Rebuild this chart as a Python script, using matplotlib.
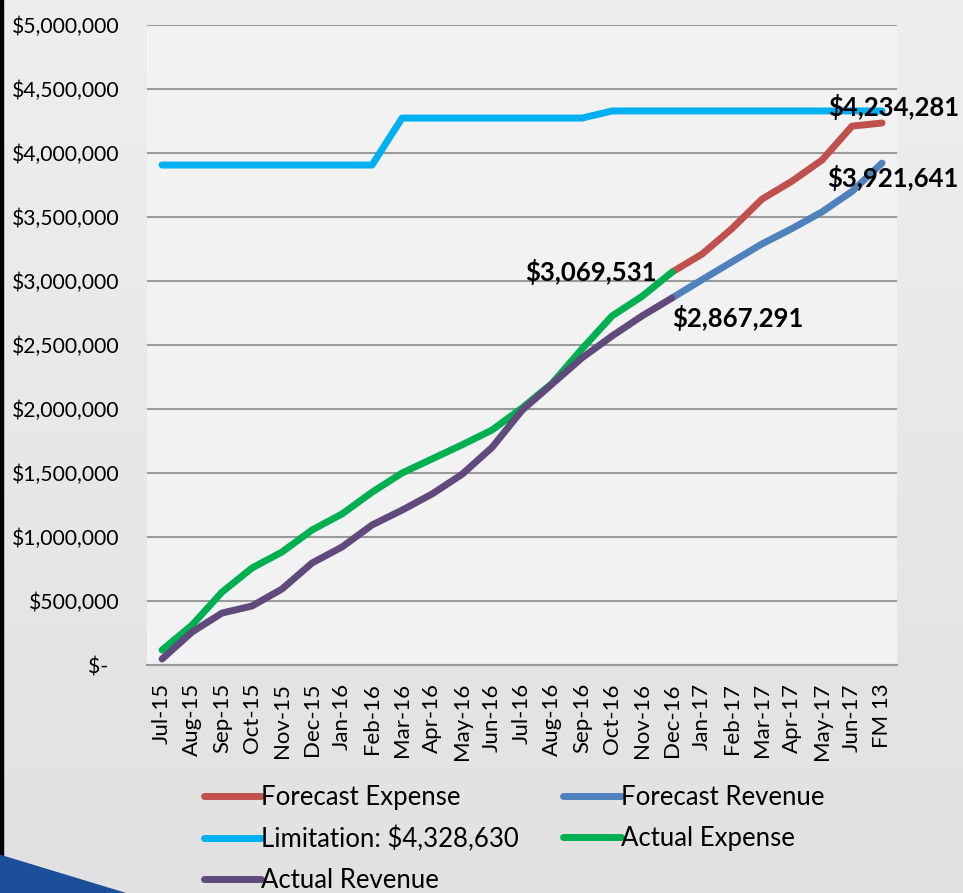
import numpy as np
import matplotlib.pyplot as plt
from matplotlib.patches import Rectangle, Polygon
from matplotlib.ticker import FuncFormatter

plt.rcParams['font.family'] = ['Lato', 'DejaVu Sans']

months = ['Jul-15', 'Aug-15', 'Sep-15', 'Oct-15', 'Nov-15', 'Dec-15', 'Jan-16',
          'Feb-16', 'Mar-16', 'Apr-16', 'May-16', 'Jun-16', 'Jul-16', 'Aug-16',
          'Sep-16', 'Oct-16', 'Nov-16', 'Dec-16', 'Jan-17', 'Feb-17', 'Mar-17',
          'Apr-17', 'May-17', 'Jun-17', 'FM 13']

nan = np.nan
# forecast series only start at Dec-16
forecast_expense = [nan] * 17 + [3069531, 3210000, 3410000, 3640000, 3780000,
                                 3945000, 4210000, 4234281]
forecast_revenue = [nan] * 17 + [2867291, 3010000, 3150000, 3290000, 3410000,
                                 3540000, 3700000, 3921641]
limitation = [3906000] * 8 + [4273000] * 7 + [4328630] * 10
actual_expense = [117000, 312000, 570000, 758000, 883000, 1055000, 1180000,
                  1350000, 1500000, 1610000, 1720000, 1836000, 2008000, 2200000,
                  2470000, 2727000, 2880000, 3069531]
actual_revenue = [47000, 258000, 406000, 461000, 594000, 797000, 922000,
                  1094000, 1210000, 1336000, 1490000, 1700000, 1990000, 2195000,
                  2400000, 2570000, 2727000, 2867291]


def money(v, pos=None):
    if v == 0:
        return '$-  '
    return '${:,.0f}'.format(v)


fig = plt.figure(figsize=(9.63, 8.93), dpi=100, facecolor='#e4e4e4')

# faint slide gradient behind everything
bg = fig.add_axes([0, 0, 1, 1], zorder=-10)
bg.imshow(np.linspace(0.93, 0.88, 256).reshape(-1, 1), cmap='gray', vmin=0,
          vmax=1, aspect='auto', extent=(0, 1, 0, 1))
bg.axis('off')

ax = fig.add_axes([0.1527, 0.2553, 0.7788, 0.7167])
ax.set_facecolor('#f2f2f2')

x = np.arange(len(months))
lw = 5
l_fe, = ax.plot(x, forecast_expense, color='#c0504d', lw=lw,
                solid_capstyle='round', label='Forecast Expense')
l_fr, = ax.plot(x, forecast_revenue, color='#4f81bd', lw=lw,
                solid_capstyle='round', label='Forecast Revenue')
l_lim, = ax.plot(x, limitation, color='#00b0f0', lw=lw,
                 solid_capstyle='round', label='Limitation: $4,328,630')
l_ae, = ax.plot(x[:len(actual_expense)], actual_expense, color='#00b050', lw=lw,
                solid_capstyle='round', label='Actual Expense')
l_ar, = ax.plot(x[:len(actual_revenue)], actual_revenue, color='#604a7b', lw=lw,
                solid_capstyle='round', label='Actual Revenue')

# value labels
lab = dict(fontsize=18.5, fontweight='bold', textcoords='offset pixels',
           va='center', annotation_clip=False)
ax.annotate('$3,069,531', (17, actual_expense[-1]), xytext=(-15, 0), ha='right', **lab)
ax.annotate('$2,867,291', (17, actual_revenue[-1]), xytext=(0, -20), ha='left', **lab)
ax.annotate('$4,234,281', (24, forecast_expense[-1]), xytext=(12, 16), ha='center', **lab)
ax.annotate('$3,921,641', (24, forecast_revenue[-1]), xytext=(11, -15), ha='center', **lab)

ax.set_xlim(-0.5, len(months) - 0.5)
ax.set_ylim(0, 5000000)
ax.set_yticks(np.arange(0, 5000001, 500000))
ax.yaxis.set_major_formatter(FuncFormatter(money))
ax.set_xticks(x)
ax.set_xticklabels(months, rotation=90)
ax.tick_params(axis='y', length=0, pad=20, labelsize=15.2)
ax.tick_params(axis='x', length=0, pad=13, labelsize=16)
ax.grid(axis='y', color='#9a9a9a', lw=1.5)
ax.set_axisbelow(True)
for s in ['top', 'left', 'right']:
    ax.spines[s].set_visible(False)
ax.spines['bottom'].set_color('#9a9a9a')
ax.spines['bottom'].set_linewidth(1.5)

# legend fills column-wise, so order the handles to get the rows right
fig.legend([l_fe, l_lim, l_ar, l_fr, l_ae],
           [h.get_label() for h in [l_fe, l_lim, l_ar, l_fr, l_ae]],
           loc='upper left', bbox_to_anchor=(0.198, 0.135), ncol=2,
           frameon=False, fontsize=18.5, handlelength=2.25, handletextpad=0.0,
           columnspacing=1.7, labelspacing=0.62, borderpad=0)

# slide decoration
fig.patches.append(Rectangle((0, 0), 3 / 963, 1, transform=fig.transFigure,
                             color='black'))
fig.patches.append(Polygon([(0, 38 / 893), (0, 0), (125 / 963, 0)],
                           transform=fig.transFigure, color='#1c4f9a'))

fig.savefig('out.png', dpi=100, facecolor=fig.get_facecolor())
